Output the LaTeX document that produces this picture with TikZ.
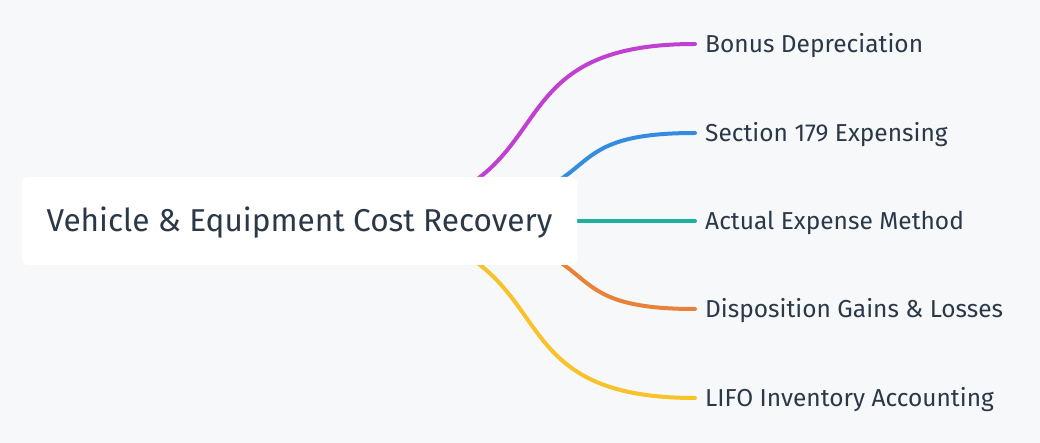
\documentclass[tikz,border=0pt]{standalone}
\usepackage{fontspec}
\setmainfont{Fira Sans}
\usepackage{xcolor}
\usepackage{tikz}
\usetikzlibrary{positioning}

\definecolor{canvasbg}{HTML}{F7F8FA}
\definecolor{textdark}{HTML}{2B3848}
\definecolor{branchpink}{HTML}{C040D2}
\definecolor{branchblue}{HTML}{348CE0}
\definecolor{branchteal}{HTML}{1EB09E}
\definecolor{branchorange}{HTML}{E8823A}
\definecolor{branchyellow}{HTML}{F7C22A}

\pgfdeclarelayer{edges}
\pgfsetlayers{edges,main}

\begin{document}
\begin{tikzpicture}[
		x=1pt, y=-1pt,
		% Defining consistent styles
		rootbox/.style={
				rectangle,
				rounded corners=6pt,
				fill=white,
				minimum width=555pt,
				minimum height=88pt,
				text height=22pt,
				text depth=0pt,
				text=textdark,
				font=\fontsize{31.6}{38}\selectfont
			},
		leafbox/.style={
				anchor=west,
				inner xsep=10pt,
				inner ysep=2pt,
				text height=17pt,
				text depth=0pt,
				text=textdark,
				font=\fontsize{24.5}{29}\selectfont
			},
		% Defining branch styles
		branch/.style={
				line width=4pt,
				line cap=round
			}
		]

		\useasboundingbox (0,0) rectangle (1040,443);

		% Central topic
		\node[rootbox] (cost_recovery) at (299.5,221) {Vehicle \& Equipment Cost Recovery};

		% Leaf topics
		\node[leafbox] (bonus_dep) at (695,44) {Bonus Depreciation};
		\node[leafbox] (sec_179) at (695,133) {Section 179 Expensing};
		\node[leafbox] (actual_exp) at (695,221) {Actual Expense Method};
		\node[leafbox] (disposition) at (695,309) {Disposition Gains \& Losses};
		\node[leafbox] (lifo_inv) at (695,398) {LIFO Inventory Accounting};

		% Drawing branches behind the central box
		\begin{pgfonlayer}{edges}
			\fill[canvasbg] (0,0) rectangle (1040,443);
			\draw[branch, branchpink] (cost_recovery.center) .. controls +(300,0) and +(-238,0) .. (bonus_dep.west);
			\draw[branch, branchblue] (cost_recovery.center) .. controls +(363,0) and +(-185,0) .. (sec_179.west);
			\draw[branch, branchteal] (cost_recovery.center) -- (actual_exp.west);
			\draw[branch, branchorange] (cost_recovery.center) .. controls +(363,0) and +(-185,0) .. (disposition.west);
			\draw[branch, branchyellow] (cost_recovery.center) .. controls +(300,0) and +(-238,0) .. (lifo_inv.west);
		\end{pgfonlayer}

	\end{tikzpicture}
\end{document}
